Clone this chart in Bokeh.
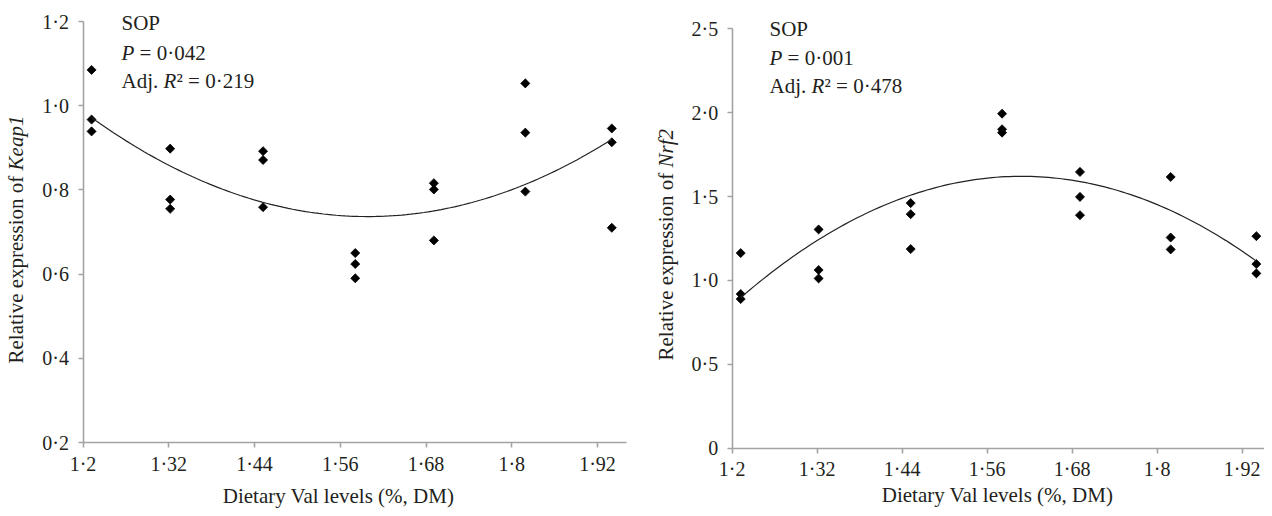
import numpy as np
from bokeh.plotting import figure
from bokeh.models import Label, FixedTicker, Range1d
from bokeh.layouts import row
from bokeh.embed import file_html
from bokeh.resources import INLINE

# ---------------- data ----------------
val_levels = [1.212, 1.322, 1.452, 1.581, 1.691, 1.819, 1.940]

keap1_rep1 = [1.085, 0.898, 0.892, 0.650, 0.816, 1.053, 0.946]
keap1_rep2 = [0.967, 0.777, 0.871, 0.624, 0.801, 0.936, 0.913]
keap1_rep3 = [0.939, 0.755, 0.759, 0.590, 0.680, 0.796, 0.710]

nrf2_rep1 = [1.163, 1.304, 1.461, 1.994, 1.647, 1.617, 1.264]
nrf2_rep2 = [0.919, 1.062, 1.395, 1.901, 1.498, 1.256, 1.098]
nrf2_rep3 = [0.889, 1.012, 1.187, 1.881, 1.389, 1.185, 1.042]

x_ticks = [1.2, 1.32, 1.44, 1.56, 1.68, 1.8, 1.92]
x_tick_labels = ["1·2", "1·32", "1·44", "1·56", "1·68", "1·8", "1·92"]
keap1_ticks = [0.2, 0.4, 0.6, 0.8, 1.0, 1.2]
keap1_tick_labels = ["0·2", "0·4", "0·6", "0·8", "1·0", "1·2"]
nrf2_ticks = [0.0, 0.5, 1.0, 1.5, 2.0, 2.5]
nrf2_tick_labels = ["0", "0·5", "1·0", "1·5", "2·0", "2·5"]

keap1_p = "0·042"
keap1_r2 = "0·219"
nrf2_p = "0·001"
nrf2_r2 = "0·478"

x_label = "Dietary Val levels (%, DM)"
y_label_prefix = "Relative expression of "

# ---------------- style / layout ----------------
FONT = "Times New Roman"
FS = 20      # tick labels
FST = 21     # statistics text
FSL = 21     # axis labels
TXT = "#231f20"
AXIS_COLOR = "#a3a3a3"
W1, W2, H = 640, 624, 508


def span(p0, v0, p1, v1, start, length):
    k = (p1 - p0) / (v1 - v0)
    a = v0 + (start - p0) / k
    b = v0 + (start + length - p0) / k
    return (min(a, b), max(a, b))


def make_panel(gene, reps, yticks, ylabels, ybounds, p_txt, r2_txt, left_img, width,
               xmap, ymap, xend, ylab, stats, xlab):
    xr = span(*xmap, left_img, width)
    yr = span(*ymap, 0, H)
    p = figure(width=width, height=H, output_backend="svg", toolbar_location=None,
               title=None, x_range=Range1d(*xr), y_range=Range1d(*yr),
               min_border=0)
    p.outline_line_color = None
    p.grid.visible = False
    for ax in (p.xaxis[0], p.yaxis[0]):
        ax.axis_line_color = AXIS_COLOR
        ax.axis_line_width = 1.6
        ax.major_tick_line_color = AXIS_COLOR
        ax.major_tick_line_width = 1.6
        ax.major_tick_out = 5
        ax.major_tick_in = 0
        ax.minor_tick_out = 0
        ax.minor_tick_in = 0
        ax.major_label_text_font = FONT
        ax.major_label_text_font_size = f"{FS}px"
        ax.major_label_text_color = TXT
    p.xaxis.fixed_location = ybounds[0]
    p.xaxis.bounds = (1.2, xend)
    p.xaxis.ticker = FixedTicker(ticks=x_ticks)
    p.xaxis.major_label_overrides = dict(zip(x_ticks, x_tick_labels))
    p.xaxis.major_label_standoff = 5
    p.yaxis.fixed_location = 1.2
    p.yaxis.bounds = ybounds
    p.yaxis.ticker = FixedTicker(ticks=yticks)
    p.yaxis.major_label_overrides = dict(zip(yticks, ylabels))
    p.yaxis.major_label_standoff = 9

    xs, ys = [], []
    for rep in reps:
        xs += val_levels
        ys += rep
    p.scatter(xs, ys, marker="square", angle=np.pi / 4, size=6.4,
              fill_color="black", line_color="black", line_width=0.8)

    # quadratic regression fitted to the observations
    coef = np.polyfit(xs, ys, 2)
    xf = np.linspace(min(val_levels), max(val_levels), 120)
    p.line(xf, np.polyval(coef, xf), line_color="#222222", line_width=1.2)

    def sx(ix):
        return ix - left_img

    def sy(iy):
        return H - iy

    base = dict(x_units="screen", y_units="screen", text_color=TXT, text_font=FONT)

    lx, ly = ylab
    p.add_layout(Label(x=sx(lx), y=sy(ly), text=y_label_prefix, angle=np.pi / 2,
                       text_align="left", text_baseline="middle",
                       text_font_size=f"{FSL}px", **base))
    p.add_layout(Label(x=sx(lx), y=sy(ly) + 9.193 * FSL, text=gene, angle=np.pi / 2,
                       text_align="left", text_baseline="middle", text_font_style="italic",
                       text_font_size=f"{FSL}px", **base))
    p.add_layout(Label(x=sx(xlab[0]), y=sy(xlab[1]), text=x_label, text_align="center",
                       text_baseline="middle", text_font_size=f"{FSL}px", **base))

    tx, r1, r2, r3 = stats
    c = dict(text_align="left", text_baseline="middle", text_font_size=f"{FST}px", **base)
    p.add_layout(Label(x=sx(tx), y=sy(r1), text="SOP", **c))
    p.add_layout(Label(x=sx(tx), y=sy(r2), text="P", text_font_style="italic", **c))
    p.add_layout(Label(x=sx(tx) + 0.861 * FST, y=sy(r2), text="= " + p_txt, **c))
    p.add_layout(Label(x=sx(tx), y=sy(r3), text="Adj.", **c))
    p.add_layout(Label(x=sx(tx) + 2.0 * FST, y=sy(r3), text="R", text_font_style="italic", **c))
    p.add_layout(Label(x=sx(tx) + 2.62 * FST, y=sy(r3), text="² = " + r2_txt, **c))
    return p


p1 = make_panel("Keap1", [keap1_rep1, keap1_rep2, keap1_rep3], keap1_ticks, keap1_tick_labels,
                (0.2, 1.2), keap1_p, keap1_r2, 0, W1,
                (82.5, 1.2, 597.0, 1.92), (21.0, 1.2, 442.0, 0.2), 1.96,
                (15, 363), (121, 22, 52, 80), (338, 495))
p2 = make_panel("Nrf2", [nrf2_rep1, nrf2_rep2, nrf2_rep3], nrf2_ticks, nrf2_tick_labels,
                (0.0, 2.5), nrf2_p, nrf2_r2, W1, W2,
                (731.7, 1.2, 1241.7, 1.92), (28.3, 2.5, 447.7, 0.0), 1.96,
                (665, 360), (769, 28, 57, 85), (997, 494))

layout = row(p1, p2)
open("out.html", "w").write(file_html(layout, INLINE))
